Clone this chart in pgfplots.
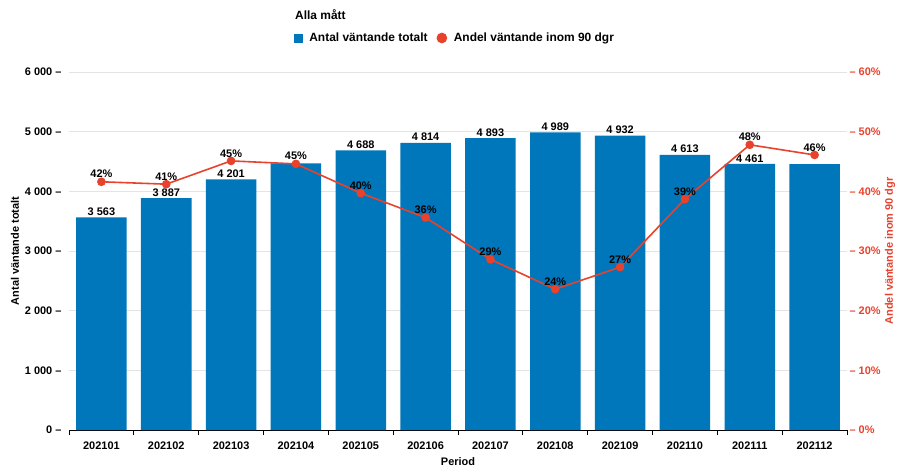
\documentclass[border=0pt]{standalone}
\usepackage{pgfplots}
\pgfplotsset{compat=1.18}
\usepackage{fontspec}
\setmainfont{Liberation Sans}
\definecolor{barblue}{HTML}{0077BB}
\definecolor{linered}{HTML}{E8412C}
\definecolor{gridgray}{HTML}{E4E4E4}
\newcommand{\lbl}{\bfseries\fontsize{11}{13}\selectfont}
\newcommand{\leg}{\bfseries\fontsize{12}{14}\selectfont}

\begin{document}
\begin{tikzpicture}[font=\lbl]
\useasboundingbox (-69bp,-38bp) rectangle (829bp,430bp);
% left axis: bars
\begin{axis}[
  scale only axis, width=778bp, height=358bp,
  at={(0,0)}, anchor=south west,
  xmin=-0.5, xmax=11.5, ymin=0, ymax=6000,
  axis x line*=bottom, axis y line*=left,
  y axis line style={draw=none},
  x axis line style={black, line width=0.8pt, -},
  xtick={-0.5,0.5,...,11.5},
  x tick label as interval,
  xticklabels={202101,202102,202103,202104,202105,202106,202107,202108,202109,202110,202111,202112},
  xtick style={black, line width=0.8pt},
  tick align=outside, major tick length=5bp,
  ytick={0,1000,...,6000},
  yticklabels={0 --,1 000 --,2 000 --,3 000 --,4 000 --,5 000 --,6 000 --},
  ytick style={draw=none},
  ymajorgrids, grid style={gridgray, line width=0.8pt},
  ticklabel style={font=\lbl},
  x tick label style={yshift=-3bp},
  y tick label style={xshift=1bp},
  ylabel={Antal väntande totalt},
  ylabel style={at={(axis description cs:-0.0694,0.5)}, anchor=center},
  xlabel={Period},
  xlabel style={at={(axis description cs:0.5,-0.0894)}, anchor=center},
]
\addplot[ybar, bar width=50.5bp, fill=barblue, draw=none,
  nodes near coords, point meta=explicit symbolic,
  nodes near coords style={font=\lbl, anchor=south, inner sep=1.5pt}]
coordinates {
(0,3563) [3 563]
(1,3887) [3 887]
(2,4201) [4 201]
(3,4470) []
(4,4688) [4 688]
(5,4814) [4 814]
(6,4893) [4 893]
(7,4989) [4 989]
(8,4932) [4 932]
(9,4613) [4 613]
(10,4461) [4 461]
(11,4455) []
};
\end{axis}
% right axis: share
\begin{axis}[
  name=ax2,
  scale only axis, width=778bp, height=358bp,
  at={(0,0)}, anchor=south west,
  xmin=-0.5, xmax=11.5, ymin=0, ymax=60,
  axis x line=none, axis y line*=right,
  y axis line style={draw=none},
  ytick={0,10,...,60},
  yticklabels={-- 0\%,-- 10\%,-- 20\%,-- 30\%,-- 40\%,-- 50\%,-- 60\%},
  ytick style={draw=none},
  y tick label style={font=\lbl, text=linered, xshift=-1bp},
  ylabel={Andel väntande inom 90 dgr},
  ylabel style={text=linered, at={(axis description cs:1.0555,0.5)}, anchor=center},
  legend style={at={(axis description cs:0.4962,1.095)}, anchor=center,
    draw=none, fill=none, font=\leg, legend columns=2,
    /tikz/every even column/.append style={column sep=7bp}},
]
\addlegendimage{legend image code/.code={\fill[barblue] (0bp,-4bp) rectangle (8bp,4bp); \path[draw=none] (0bp,0bp) -- (13bp,0bp);}}
\addplot[linered, line width=1.6pt, mark=*, mark size=3.5bp,
  mark options={fill=linered, draw=linered},
  legend image code/.code={\fill[linered] (5bp,0bp) circle (4.5bp); \path[draw=none] (0bp,0bp) -- (15bp,0bp);},
  nodes near coords, point meta=explicit symbolic,
  nodes near coords style={font=\lbl, text=black, anchor=south, inner sep=1pt, yshift=2bp}]
coordinates {
(0,41.6) [42\%]
(1,41.2) [41\%]
(2,45.1) [45\%]
(3,44.6) [45\%]
(4,39.7) [40\%]
(5,35.6) [36\%]
(6,28.6) [29\%]
(7,23.6) [24\%]
(8,27.3) [27\%]
(9,38.7) [39\%]
(10,47.8) [48\%]
(11,46.1) [46\%]
};
\legend{Antal väntande totalt, Andel väntande inom 90 dgr}
\end{axis}
\node[anchor=west, font=\leg, inner sep=0pt] at ([xshift=226bp,yshift=57bp]ax2.north west) {Alla mått};
\end{tikzpicture}
\end{document}
